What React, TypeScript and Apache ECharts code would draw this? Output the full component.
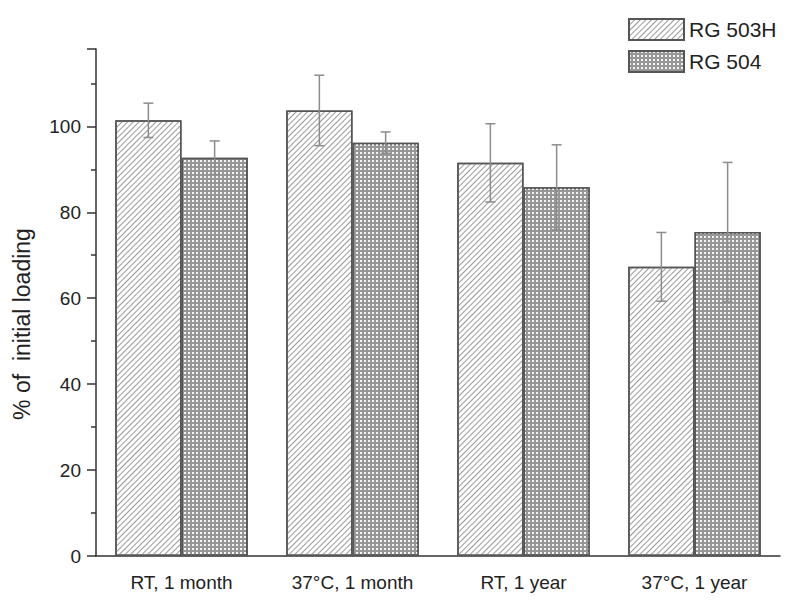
import React, { useEffect, useRef } from "react";
import * as echarts from "echarts";

const categories = ["RT, 1 month", "37°C, 1 month", "RT, 1 year", "37°C, 1 year"];
const seriesNames = ["RG 503H", "RG 504"];
const rg503hValues = [101.4, 103.7, 91.5, 67.3];
const rg503hErrors = [4.0, 8.2, 9.1, 8.0];
const rg504Values = [92.7, 96.2, 85.8, 75.4];
const rg504Errors = [3.9, 2.5, 9.9, 16.2];
const yTicks = [0, 20, 40, 60, 80, 100];

const GAP = 0.225;
const FONT = "'Liberation Sans', Arial, sans-serif";

export default function App() {
  const ref = useRef<HTMLDivElement>(null);
  useEffect(() => {
    if (!ref.current) return;
    const chart = echarts.init(ref.current, undefined, { renderer: "svg" });

    const errData = (vals: number[], errs: number[]) =>
      vals.map((v, i) => [i, v, errs[i]]);

    const errSeries = (vals: number[], errs: number[], off: number) => ({
      type: "custom",
      xAxisIndex: 0,
      yAxisIndex: 0,
      z: 10,
      silent: true,
      encode: { x: 0, y: 1 },
      data: errData(vals, errs),
      renderItem: (params: any, api: any) => {
        const ci = api.value(0);
        const v = api.value(1);
        const e = api.value(2);
        const c = api.coord([ci, v]);
        const cw = api.size([1, 0])[0];
        const bw = (cw * (1 - GAP)) / 2;
        const x = c[0] + (off * bw) / 2;
        const top = api.coord([ci, v + e])[1];
        const bot = api.coord([ci, v - e])[1];
        const cap = 5;
        const st = { stroke: "#8c8c8c", lineWidth: 1.5 };
        return {
          type: "group",
          children: [
            { type: "line", shape: { x1: x, y1: top, x2: x, y2: bot }, style: st },
            { type: "line", shape: { x1: x - cap, y1: top, x2: x + cap, y2: top }, style: st },
            { type: "line", shape: { x1: x - cap, y1: bot, x2: x + cap, y2: bot }, style: st },
          ],
        };
      },
    });

    chart.setOption({
      animation: false,
      grid: { left: 96, right: 20, top: 49, bottom: 51 },
      legend: {
        left: 623,
        top: 13,
        orient: "vertical",
        icon: "rect",
        itemWidth: 55,
        itemHeight: 21,
        itemGap: 9,
        data: seriesNames,
        textStyle: { fontFamily: FONT, fontSize: 21, color: "#222" },
      },
      xAxis: [
        {
          type: "category",
          data: categories,
          position: "bottom",
          axisLine: { lineStyle: { color: "#333", width: 1.5 } },
          axisTick: { alignWithLabel: true, length: 10, lineStyle: { color: "#333", width: 1.5 } },
          axisLabel: { fontFamily: FONT, fontSize: 19, color: "#222", margin: 17 },
        },
        {
          type: "category",
          data: categories,
          position: "bottom",
          axisLine: { show: false },
          axisTick: { alignWithLabel: false, length: 5, lineStyle: { color: "#333", width: 1.5 } },
          axisLabel: { show: false },
        },
      ],
      yAxis: {
        type: "value",
        min: 0,
        max: 118,
        interval: 20,
        splitLine: { show: false },
        axisLine: { show: true, lineStyle: { color: "#333", width: 1.5 } },
        axisTick: { show: true, length: 9, lineStyle: { color: "#333", width: 1.5 } },
        minorTick: { show: true, splitNumber: 2, length: 5, lineStyle: { color: "#333", width: 1.5 } },
        axisLabel: {
          fontFamily: FONT,
          fontSize: 19,
          color: "#222",
          margin: 15,
          formatter: (v: number) => (yTicks.includes(v) ? String(v) : ""),
        },
      },
      graphic: [
        {
          type: "text",
          x: 22,
          y: 324,
          rotation: Math.PI / 2,
          style: {
            text: "% of  initial loading",
            fontFamily: FONT,
            fontSize: 23,
            fill: "#222",
            align: "center",
            verticalAlign: "middle",
          },
        },
      ],
      series: [
        {
          name: seriesNames[0],
          type: "bar",
          data: rg503hValues,
          barGap: "0%",
          barCategoryGap: GAP * 100 + "%",
          itemStyle: {
            color: "#ffffff",
            borderColor: "#555",
            borderWidth: 1.5,
            decal: {
              symbol: "rect",
              symbolSize: 1,
              dashArrayX: [1, 0],
              dashArrayY: [1, 2.2],
              rotation: -Math.PI / 4,
              color: "#999",
            },
          },
        },
        {
          name: seriesNames[1],
          type: "bar",
          data: rg504Values,
          barGap: "0%",
          barCategoryGap: GAP * 100 + "%",
          itemStyle: {
            color: "#969696",
            borderColor: "#555",
            borderWidth: 1.5,
            decal: {
              symbol: "rect",
              symbolSize: 1,
              dashArrayX: [1.6, 1.7],
              dashArrayY: [1.6, 1.7],
              rotation: 0,
              color: "#f4f4f4",
            },
          },
        },
        errSeries(rg503hValues, rg503hErrors, -1),
        errSeries(rg504Values, rg504Errors, 1),
      ],
    });
    return () => chart.dispose();
  }, []);
  return (
    <div
      ref={ref}
      style={{ position: "absolute", left: 0, top: 0, width: 800, height: 607 }}
    />
  );
}
